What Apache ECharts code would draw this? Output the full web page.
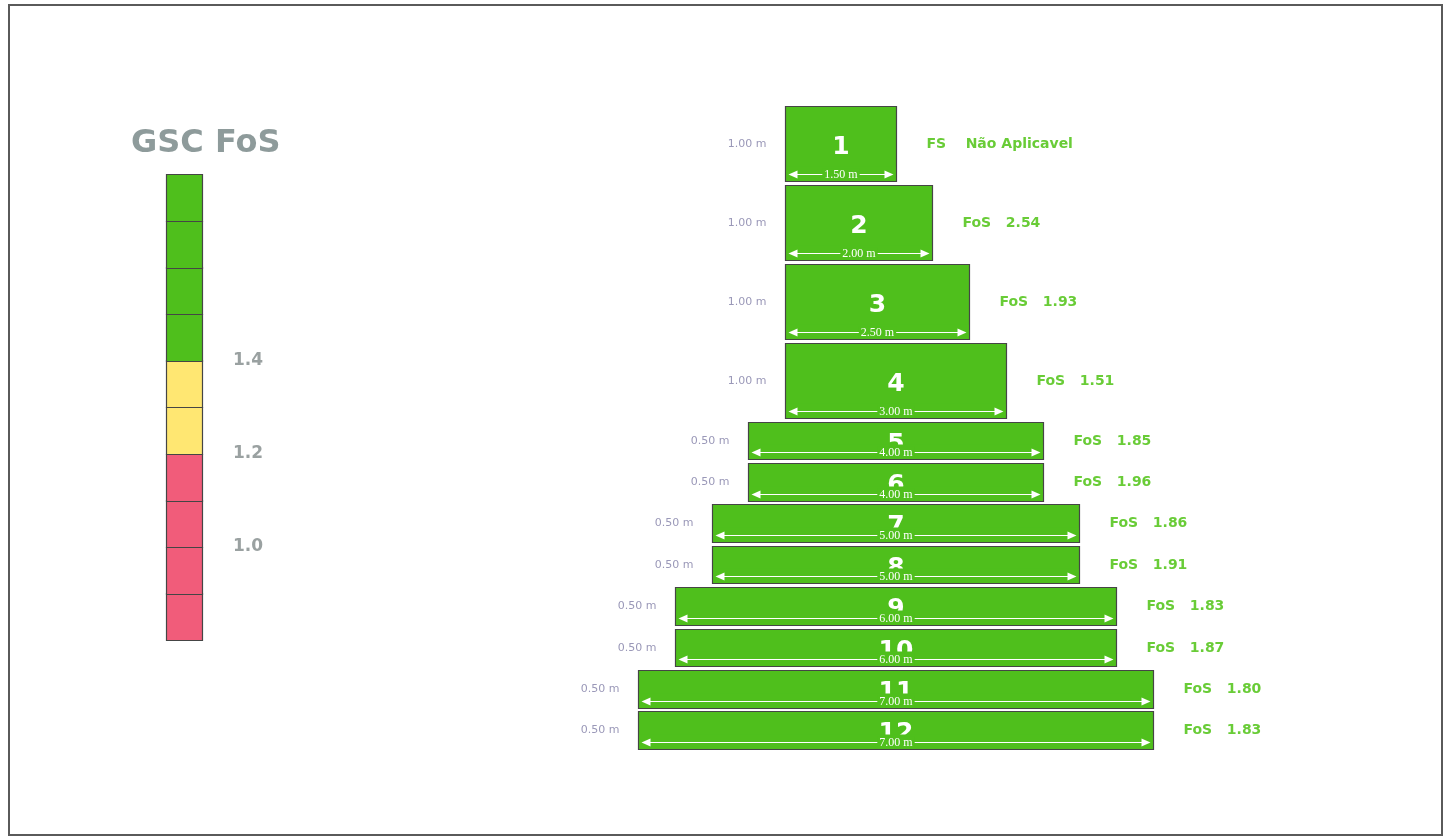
<!DOCTYPE html>
<html>
<head>
<meta charset="utf-8">
<script src="https://cdn.jsdelivr.net/npm/echarts@6/dist/echarts.min.js"></script>
<style>
html,body{margin:0;padding:0;background:#fff;}
#chart{position:absolute;left:0;top:0;width:1449px;height:838px;}
#frame{position:absolute;left:8px;top:4px;width:1431px;height:828px;border:2px solid #5a5a5a;pointer-events:none;}
</style>
</head>
<body>
<div id="chart"></div>
<div id="frame"></div>
<script>
// ---- data ----
const blockIds = ['1','2','3','4','5','6','7','8','9','10','11','12'];
const blockWidths = [1.5, 2.0, 2.5, 3.0, 4.0, 4.0, 5.0, 5.0, 6.0, 6.0, 7.0, 7.0];
const blockHeights = [1.0, 1.0, 1.0, 1.0, 0.5, 0.5, 0.5, 0.5, 0.5, 0.5, 0.5, 0.5];
const blockSetback = [0, 0, 0, 0, -0.5, -0.5, -1.0, -1.0, -1.5, -1.5, -2.0, -2.0];
const fosValues = [null, 2.54, 1.93, 1.51, 1.85, 1.96, 1.86, 1.91, 1.83, 1.87, 1.80, 1.83];
const notApplicableText = 'FS    Não Aplicavel';
const legendCellLower = [0.8, 0.9, 1.0, 1.1, 1.2, 1.3, 1.4, 1.5, 1.6, 1.7];
const legendThresholds = [1.2, 1.4];
const legendTickLabels = ['1.0', '1.2', '1.4'];

const GREEN = '#4fbf1c';
const YELLOW = '#ffe772';
const RED = '#f15c7a';
const BLOCK_GAP = 3.9; // px spacing between stacked blocks

// cumulative base (from bottom)
const n = blockIds.length;
const bases = new Array(n);
let acc = 0;
for (let i = n - 1; i >= 0; i--) { bases[i] = acc; acc += blockHeights[i]; }
const totalHeight = acc;

const blockData = blockIds.map((id, i) => [blockSetback[i], bases[i], blockWidths[i], blockHeights[i], i]);
const legendData = legendCellLower.map(v => [v]);

function renderBlock(params, api) {
  const left = api.value(0), base = api.value(1), w = api.value(2), h = api.value(3), idx = api.value(4);
  const pTL = api.coord([left, base + h]);
  const pBR = api.coord([left + w, base]);
  const off = idx * BLOCK_GAP;
  const x0 = Math.round(pTL[0]) + 0.5, y0 = Math.round(pTL[1] + off) + 0.5;
  const x1 = Math.round(pBR[0]) + 0.5, y1 = Math.round(pBR[1] + off) + 0.5;
  const cx = (x0 + x1) / 2, cy = (y0 + y1) / 2;
  const ya = y1 - 7;
  const fos = fosValues[idx];
  const fosText = fos == null ? notApplicableText : 'FoS   ' + fos.toFixed(2);
  return {
    type: 'group',
    children: [
      { type: 'rect', shape: { x: x0, y: y0, width: x1 - x0, height: y1 - y0 },
        style: { fill: GREEN, stroke: '#454545', lineWidth: 1.2 } },
      { type: 'text', x: cx, y: cy + 3,
        style: { text: blockIds[idx], fill: '#ffffff', font: 'bold 25px "DejaVu Sans"', align: 'center', verticalAlign: 'middle' } },
      { type: 'rect', shape: { x: x0 + 1, y: y1 - 15, width: x1 - x0 - 2, height: 14 },
        style: { fill: GREEN } },
      { type: 'line', shape: { x1: x0 + 8, y1: ya, x2: x1 - 8, y2: ya },
        style: { stroke: '#ffffff', lineWidth: 1 } },
      { type: 'polygon', shape: { points: [[x0 + 3, ya], [x0 + 12, ya - 4], [x0 + 12, ya + 4]] },
        style: { fill: '#ffffff' } },
      { type: 'polygon', shape: { points: [[x1 - 3, ya], [x1 - 12, ya - 4], [x1 - 12, ya + 4]] },
        style: { fill: '#ffffff' } },
      { type: 'text', x: cx, y: ya,
        style: { text: w.toFixed(2) + ' m', fill: '#ffffff', font: '12px "Liberation Serif"', align: 'center', verticalAlign: 'middle',
                 backgroundColor: GREEN, padding: [0, 2] } },
      { type: 'text', x: x0 - 19, y: cy,
        style: { text: h.toFixed(2) + ' m', fill: '#9a98b8', font: '11px "DejaVu Sans"', align: 'right', verticalAlign: 'middle' } },
      { type: 'text', x: x1 + 30, y: cy,
        style: { text: fosText, fill: '#69cc37', font: 'bold 14px "DejaVu Sans"', align: 'left', verticalAlign: 'middle' } }
    ]
  };
}

function legendColor(v) {
  if (v < legendThresholds[0] - 1e-9) return RED;
  if (v < legendThresholds[1] - 1e-9) return YELLOW;
  return GREEN;
}

function renderLegend(params, api) {
  const v = api.value(0);
  const pTL = api.coord([0, v + 0.1]);
  const pBR = api.coord([1, v]);
  return {
    type: 'rect',
    shape: { x: Math.round(pTL[0]) + 0.5, y: Math.round(pTL[1]) + 0.5, width: Math.round(pBR[0] - pTL[0]), height: Math.round(pBR[1] - pTL[1]) },
    style: { fill: legendColor(v), stroke: '#454545', lineWidth: 1.2 }
  };
}

const chart = echarts.init(document.getElementById('chart'), null, { renderer: 'canvas' });
chart.setOption({
  animation: false,
  backgroundColor: '#ffffff',
  title: {
    text: 'GSC FoS', left: 126, top: 123,
    textStyle: { color: '#8e9b9b', fontSize: 32, fontWeight: 'bold', fontFamily: 'DejaVu Sans' }
  },
  grid: [
    { left: 638, width: 515, top: 106, height: 600 },
    { left: 166, width: 36, top: 174, height: 466 }
  ],
  xAxis: [
    { type: 'value', gridIndex: 0, min: -2, max: 5, show: false },
    { type: 'value', gridIndex: 1, min: 0, max: 1, show: false }
  ],
  yAxis: [
    { type: 'value', gridIndex: 0, min: 0, max: totalHeight, show: false },
    { type: 'value', gridIndex: 1, min: 0.8, max: 1.8, interval: 0.2, position: 'right',
      axisLine: { show: false }, axisTick: { show: false }, splitLine: { show: false },
      axisLabel: {
        margin: 31, color: '#9aa1a1', fontSize: 17, fontWeight: 'bold', fontFamily: 'DejaVu Sans',
        formatter: function (val) { const s = (Math.round(val * 10) / 10).toFixed(1); return legendTickLabels.indexOf(s) >= 0 ? s : ''; }
      } }
  ],
  series: [
    { type: 'custom', xAxisIndex: 0, yAxisIndex: 0, clip: false, renderItem: renderBlock, data: blockData },
    { type: 'custom', xAxisIndex: 1, yAxisIndex: 1, clip: false, renderItem: renderLegend, data: legendData }
  ]
});
</script>
</body>
</html>
